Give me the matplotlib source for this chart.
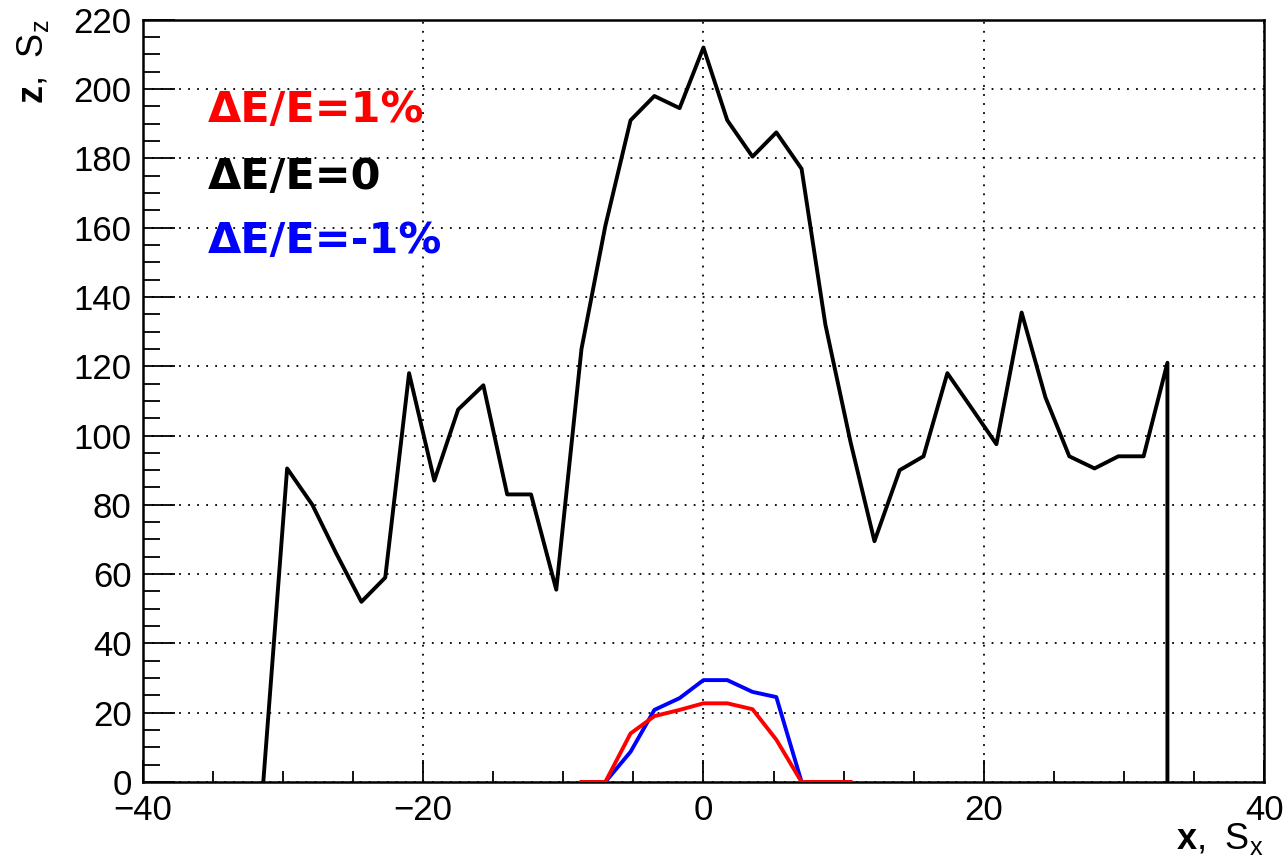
import matplotlib
matplotlib.use('Agg')
import matplotlib.pyplot as plt
from matplotlib.ticker import MultipleLocator

plt.rcParams['font.family'] = ['Liberation Sans', 'DejaVu Sans']
plt.rcParams['mathtext.fontset'] = 'custom'
plt.rcParams['mathtext.rm'] = 'Liberation Sans'
plt.rcParams['mathtext.bf'] = 'Liberation Sans:bold'

# dE/E = 0
x_black = [-31.4, -29.7, -27.9, -26.2, -24.4, -22.7, -21.0, -19.2, -17.5, -15.7,
           -14.0, -12.3, -10.5, -8.7, -7.0, -5.2, -3.5, -1.7, 0.0, 1.7,
           3.5, 5.2, 7.0, 8.7, 10.5, 12.2, 14.0, 15.7, 17.4, 19.2,
           20.9, 22.7, 24.4, 26.1, 27.9, 29.6, 31.4, 33.1, 33.1]
y_black = [0, 90.5, 80, 66, 52, 59, 118, 87, 107.5, 114.5,
           83, 83, 55.5, 125, 160.5, 191, 198, 194.5, 212, 191,
           180.5, 187.5, 177, 132, 98, 69.5, 90, 94, 118, 107.5,
           97.5, 135.5, 111, 94, 90.5, 94, 94, 121, 0]

# dE/E = +1%
x_red = [-8.7, -7.0, -5.2, -3.5, -1.7, 0.0, 1.7, 3.5, 5.2, 7.0, 8.7, 10.5]
y_red = [0, 0, 14, 19, 20.8, 22.7, 22.7, 21, 12.2, 0, 0, 0]

# dE/E = -1%
x_blue = [-7.0, -5.2, -3.5, -1.7, 0.0, 1.7, 3.5, 5.2, 7.0]
y_blue = [0, 8.7, 20.8, 24.2, 29.4, 29.4, 26, 24.5, 0]

fig = plt.figure(figsize=(12.86, 8.61), dpi=100)
ax = fig.add_axes([0.111, 0.0918, 0.872, 0.8852])

ax.plot(x_black, y_black, color='black', lw=2.8, zorder=3)
ax.plot(x_blue, y_blue, color='#0000ff', lw=2.8, zorder=4)
ax.plot(x_red, y_red, color='#ff0000', lw=2.8, zorder=5)

ax.set_xlim(-40, 40)
ax.set_ylim(0, 220)
ax.xaxis.set_major_locator(MultipleLocator(20))
ax.xaxis.set_minor_locator(MultipleLocator(5))
ax.yaxis.set_major_locator(MultipleLocator(20))
ax.yaxis.set_minor_locator(MultipleLocator(5))
ax.tick_params(which='both', direction='in', labelsize=25, width=1.3)
ax.tick_params(which='major', axis='x', length=16, pad=9)
ax.tick_params(which='minor', axis='x', length=8)
ax.tick_params(which='major', axis='y', length=23, pad=8)
ax.tick_params(which='minor', axis='y', length=12)
for s in ax.spines.values():
    s.set_linewidth(1.8)
ax.grid(True, which='major', color='black', linestyle=(0, (1, 4)), linewidth=1.3)

ax.text(1.0, -0.075, r'$\mathbf{x},\ \mathrm{S}_\mathrm{x}$', transform=ax.transAxes,
        ha='right', va='center', fontsize=26)
ax.text(-0.098, 1.0, r'$\mathbf{z},\ \mathrm{S}_\mathrm{z}$', transform=ax.transAxes,
        ha='center', va='top', rotation=90, fontsize=26)

# legenda
ax.text(0.058, 0.882, 'ΔE/E=1%', transform=ax.transAxes, color='#ff0000',
        fontsize=31, fontweight='bold', family='DejaVu Sans', va='center')
ax.text(0.058, 0.794, 'ΔE/E=0', transform=ax.transAxes, color='black',
        fontsize=31, fontweight='bold', family='DejaVu Sans', va='center')
ax.text(0.058, 0.71, 'ΔE/E=-1%', transform=ax.transAxes, color='#0000ff',
        fontsize=31, fontweight='bold', family='DejaVu Sans', va='center')

fig.savefig('out.png', dpi=100)
